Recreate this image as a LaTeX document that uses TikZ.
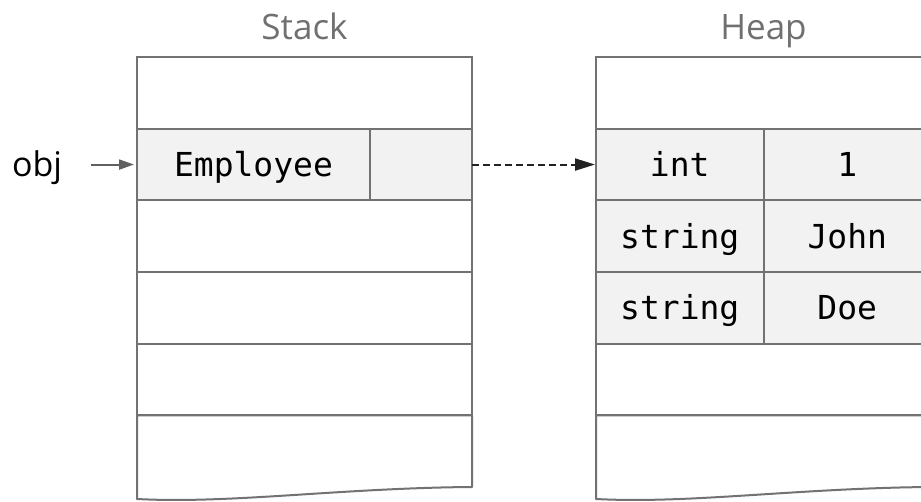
\documentclass[tikz,border=0pt]{standalone}
\usepackage{fontspec}
\setmainfont{Open Sans}
\setmonofont{DejaVu Sans Mono}
\usetikzlibrary{arrows.meta}
\definecolor{linegray}{HTML}{727272}
\definecolor{cellfill}{HTML}{F2F2F2}
\definecolor{titlegray}{HTML}{707070}
\definecolor{arrowgray}{HTML}{606060}
\definecolor{dasharrow}{HTML}{222222}
\begin{document}
\begin{tikzpicture}[x=1pt,y=-1pt,
  cell/.style={draw=linegray, line width=2pt, inner sep=0pt, outer sep=0pt, anchor=north west,
    minimum height=71.7pt, text height=24pt, text depth=0pt,
    font=\fontsize{33}{36}\selectfont\ttfamily},
  graycell/.style={cell, fill=cellfill},
  wave/.style={draw=linegray, line width=2pt, line join=round},
  title/.style={anchor=base, text=titlegray, font=\fontsize{35}{40}\selectfont},
  objlabel/.style={anchor=base, font=\fontsize{34}{38}\selectfont},
  ptr/.style={draw=arrowgray, line width=2pt, -{Triangle[length=15pt,width=10pt]}},
  ref/.style={draw=dasharrow, line width=2pt, dash pattern=on 7pt off 4pt,
    -{Triangle[length=20pt,width=12pt]}}
]
\useasboundingbox (0,0) rectangle (921,502);
\clip (0,0) rectangle (921,502);
% titles
\node[title] (stacktitle) at (304.5,39.3) {Stack};
\node[title] (heaptitle) at (763.5,39.3) {Heap};
% stack
\node[cell, minimum width=335pt] (s1) at (137,57) {};
\node[graycell, minimum width=233pt] (s2a) at (137,128.7) {Employee};
\node[graycell, minimum width=102pt] (s2b) at (370,128.7) {};
\node[cell, minimum width=335pt] (s3) at (137,200.4) {};
\node[cell, minimum width=335pt] (s4) at (137,272.1) {};
\node[cell, minimum width=335pt] (s5) at (137,343.8) {};
\draw[wave] (s5.south west) -- (s5.south east) -- (472,487)
  .. controls (340,488) and (230,504) .. (137,499) -- cycle;
% heap
\node[cell, minimum width=335pt] (h1) at (596,57) {};
\node[graycell, minimum width=167.5pt] (h2a) at (596,128.7) {int};
\node[graycell, minimum width=167.5pt] (h2b) at (763.5,128.7) {1};
\node[graycell, minimum width=167.5pt] (h3a) at (596,200.4) {string};
\node[graycell, minimum width=167.5pt] (h3b) at (763.5,200.4) {John};
\node[graycell, minimum width=167.5pt] (h4a) at (596,272.1) {string};
\node[graycell, minimum width=167.5pt] (h4b) at (763.5,272.1) {Doe};
\node[cell, minimum width=335pt] (h5) at (596,343.8) {};
\draw[wave] (h5.south west) -- (h5.south east) -- (931,487)
  .. controls (799,488) and (689,504) .. (596,499) -- cycle;
% obj pointer
\node[objlabel] (obj) at (37,177) {obj};
\draw[ptr, shorten <=25pt, shorten >=3pt] (obj.east |- s2a.west) -- (s2a.west);
% reference
\draw[ref, shorten >=1pt] (s2b.east) -- (h2a.west);
\end{tikzpicture}
\end{document}
